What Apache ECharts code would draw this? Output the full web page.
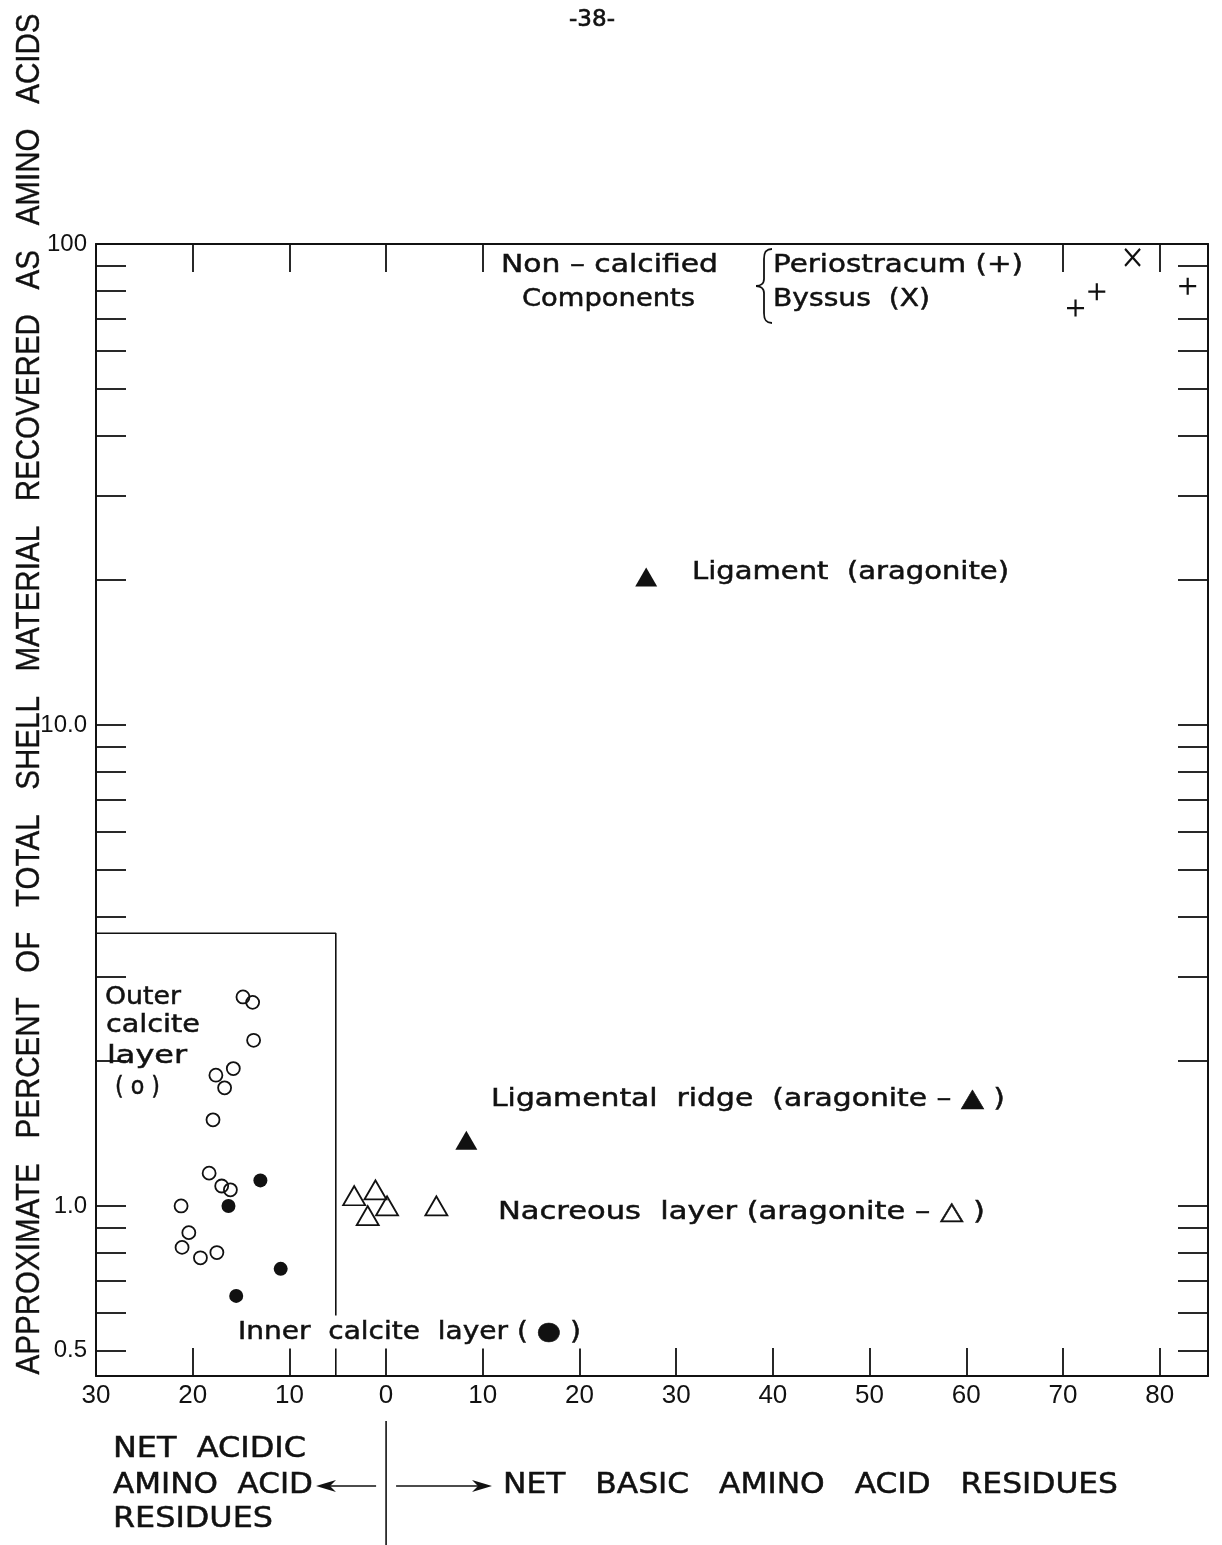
<!DOCTYPE html>
<html><head><meta charset="utf-8">
<script src="https://cdn.jsdelivr.net/npm/echarts@6/dist/echarts.min.js"></script>
<style>html,body{margin:0;padding:0;background:#fff}#c{width:1222px;height:1545px}</style>
</head><body><div id="c"></div>
<script>
// ---------- data ----------
const outerCalciteX = [-14.8, -13.8, -13.7, -17.6, -15.8, -16.7, -17.9, -18.3, -17.0, -16.1, -21.2, -20.4, -21.1, -19.2, -17.5];
const outerCalciteY = [2.72, 2.65, 2.21, 1.87, 1.93, 1.76, 1.51, 1.17, 1.10, 1.08, 1.00, 0.88, 0.82, 0.78, 0.80];
const innerCalciteX = [-13.0, -16.3, -10.9, -15.5];
const innerCalciteY = [1.13, 1.00, 0.74, 0.65];
const nacreousX = [-3.3, -1.1, 0.1, -1.9, 5.2];
const nacreousY = [1.05, 1.08, 1.00, 0.955, 1.00];
const ligRidgeX = [8.3];
const ligRidgeY = [1.37];
const ligamentX = [26.9];
const ligamentY = [20.3];
const periostracumX = [71.3, 73.5, 82.9];
const periostracumY = [73.6, 79.6, 81.7];
const byssusX = [77.2];
const byssusY = [93.8];
// enclosing box of the calcite-layer group (data units)
const boxX = [-30, -5.2, -5.2];
const boxY = [3.69, 3.69, 0.443];

// ---------- axes / ticks ----------
const X_MIN = -30, X_MAX = 85;
const Y_MIN = 0.443, Y_MAX = 100;
const xLabelValues = [-30, -20, -10, 0, 10, 20, 30, 40, 50, 60, 70, 80];
const xBottomTickValues = [-20, -10, 0, 10, 20, 30, 40, 50, 60, 70, 80];
const xTopTickValues = [-20, -10, 0, 10, 70, 80];
const yTickValues = [0.5, 0.6, 0.7, 0.8, 0.9, 1, 2, 3, 4, 5, 6, 7, 8, 9, 10, 20, 30, 40, 50, 60, 70, 80, 90];
const yRightTickValues = [0.5, 0.6, 0.7, 0.8, 0.9, 1, 2, 3, 4, 5, 6, 7, 8, 9, 10, 20, 30, 40, 50, 60, 70, 90];
const yLabelValues = [0.5, 1, 10, 100];
const yLabelTexts = ['0.5', '1.0', '10.0', '100'];

const zip = (xs, ys) => xs.map((x, i) => [x, ys[i]]);

const INK = '#111';
const FONT = 'DejaVu Sans';
const mctx = document.createElement('canvas').getContext('2d');
function fitText(str, left, cy, width, size, extra) {
  mctx.font = size + 'px "' + FONT + '"';
  const w = mctx.measureText(str).width;
  return {
    type: 'text', x: left, y: cy, scaleX: width / w, z: 100,
    style: Object.assign({ text: str, fontFamily: FONT, fontSize: size, fill: INK, stroke: INK, lineWidth: 0.5,
      align: 'left', verticalAlign: 'middle' }, extra || {})
  };
}

const chart = echarts.init(document.getElementById('c'), null, { renderer: 'canvas' });

const tickStyle = { color: INK, width: 1.8 };

function yAxisCfg(pos, ticks, showLabel) {
  return {
    type: 'log', logBase: 10, min: Y_MIN, max: Y_MAX, position: pos,
    axisLine: { show: true, onZero: false, lineStyle: { color: INK, width: 2 } },
    axisTick: { show: true, inside: true, length: 30, lineStyle: tickStyle, customValues: ticks },
    minorTick: { show: false },
    axisLabel: {
      show: showLabel, customValues: yLabelValues, margin: 9,
      fontFamily: 'Liberation Sans', fontSize: 24, color: INK,
      formatter: v => { const i = yLabelValues.findIndex(t => Math.abs(t - v) < 1e-6 * Math.max(1, t)); return i >= 0 ? yLabelTexts[i] : ''; }
    },
    splitLine: { show: false }
  };
}
function xAxisCfg(pos, ticks, showLabel) {
  return {
    type: 'value', min: X_MIN, max: X_MAX, position: pos,
    axisLine: { show: true, onZero: false, lineStyle: { color: INK, width: 2 } },
    axisTick: { show: true, inside: true, length: 28, lineStyle: tickStyle, customValues: ticks },
    axisLabel: {
      show: showLabel, customValues: xLabelValues, margin: 7,
      fontFamily: 'Liberation Sans', fontSize: 26, color: INK,
      formatter: v => String(Math.abs(Math.round(v)))
    },
    splitLine: { show: false }
  };
}

const plus = 'path://M5,0L5,10M0,5L10,5';
const cross = 'path://M0,0L10,10M10,0L0,10';

chart.setOption({
  backgroundColor: '#fff',
  animation: false,
  grid: { left: 96, right: 14, top: 244, bottom: 169, containLabel: false, outerBoundsMode: 'none' },
  xAxis: [xAxisCfg('bottom', xBottomTickValues, true), xAxisCfg('top', xTopTickValues, false)],
  yAxis: [yAxisCfg('left', yTickValues, true), yAxisCfg('right', yRightTickValues, false)],
  series: [
    { type: 'line', data: zip(boxX, boxY), symbol: 'none', lineStyle: { color: INK, width: 1.6 }, z: 1, silent: true },
    { type: 'scatter', data: zip(outerCalciteX, outerCalciteY), symbol: 'circle', symbolSize: 13,
      itemStyle: { color: 'rgba(0,0,0,0)', borderColor: INK, borderWidth: 1.8, opacity: 1 }, z: 3 },
    { type: 'scatter', data: zip(innerCalciteX, innerCalciteY), symbol: 'circle', symbolSize: 14,
      itemStyle: { color: INK, borderColor: INK, borderWidth: 0, opacity: 1 }, z: 3 },
    { type: 'scatter', data: zip(nacreousX, nacreousY), symbol: 'triangle', symbolSize: [22, 19],
      itemStyle: { color: 'rgba(0,0,0,0)', borderColor: INK, borderWidth: 1.8, opacity: 1 }, z: 3 },
    { type: 'scatter', data: zip(ligRidgeX, ligRidgeY), symbol: 'triangle', symbolSize: [22, 19],
      itemStyle: { color: INK, opacity: 1 }, z: 3 },
    { type: 'scatter', data: zip(ligamentX, ligamentY), symbol: 'triangle', symbolSize: [22, 19],
      itemStyle: { color: INK, opacity: 1 }, z: 3 },
    { type: 'scatter', data: zip(periostracumX, periostracumY), symbol: plus, symbolSize: 17,
      itemStyle: { color: 'none', borderColor: INK, borderWidth: 2.2, opacity: 1 }, z: 3 },
    { type: 'scatter', data: zip(byssusX, byssusY), symbol: cross, symbolSize: [15, 17],
      itemStyle: { color: 'none', borderColor: INK, borderWidth: 2.2, opacity: 1 }, z: 3 }
  ]
});

// ---------- annotations ----------
const x0 = chart.convertToPixel({ xAxisIndex: 0 }, 0);
const title = 'APPROXIMATE   PERCENT   OF   TOTAL   SHELL   MATERIAL   RECOVERED   AS   AMINO   ACIDS';
mctx.font = '34px "Liberation Sans"';
const titleW = mctx.measureText(title).width;

const braceStyle = { fill: 'none', stroke: INK, lineWidth: 1.8 };
const graphics = [
  { type: 'text', x: 30, y: 694, rotation: Math.PI / 2, scaleX: 1361 / titleW, z: 100,
    style: { text: title, fontFamily: 'Liberation Sans', fontSize: 34, fill: INK, stroke: INK, lineWidth: 0.4, align: 'center', verticalAlign: 'middle' } },
  { type: 'text', x: 592, y: 20, z: 100, style: { text: '-38-', fontFamily: FONT, fontSize: 23, fill: INK, stroke: INK, lineWidth: 0.6, align: 'center', verticalAlign: 'middle' } },
  fitText('Non – calcified', 501, 265, 217, 25),
  fitText('Components', 522, 299, 173, 25),
  // curly brace
  { type: 'bezierCurve', z: 100, shape: { x1: 772, y1: 249, cpx1: 766, cpy1: 249, cpx2: 764, cpy2: 252, x2: 764, y2: 259 }, style: braceStyle },
  { type: 'line', z: 100, shape: { x1: 764, y1: 259, x2: 764, y2: 279 }, style: braceStyle },
  { type: 'bezierCurve', z: 100, shape: { x1: 764, y1: 279, cpx1: 764, cpy1: 284, cpx2: 760, cpy2: 286, x2: 756, y2: 286 }, style: braceStyle },
  { type: 'bezierCurve', z: 100, shape: { x1: 756, y1: 286, cpx1: 760, cpy1: 286, cpx2: 764, cpy2: 288, x2: 764, y2: 293 }, style: braceStyle },
  { type: 'line', z: 100, shape: { x1: 764, y1: 293, x2: 764, y2: 313 }, style: braceStyle },
  { type: 'bezierCurve', z: 100, shape: { x1: 764, y1: 313, cpx1: 764, cpy1: 320, cpx2: 766, cpy2: 323, x2: 772, y2: 323 }, style: braceStyle },
  fitText('Periostracum (+)', 773, 265, 250, 25),
  fitText('Byssus  (X)', 773, 299, 157, 25),
  fitText('Ligament  (aragonite)', 692, 572, 317, 25),
  fitText('Ligamental  ridge  (aragonite – ▲ )', 491, 1099, 514, 25),
  fitText('Nacreous  layer (aragonite – △ )', 498, 1212, 487, 25),
  fitText('Inner  calcite  layer ( ● )', 238, 1332, 343, 25, { backgroundColor: '#fff', padding: [4, 0] }),
  fitText('Outer', 105, 997, 76, 25),
  fitText('calcite', 106, 1025, 94, 25),
  fitText('layer', 107, 1056, 80, 25),
  fitText('( o )', 115, 1087, 45, 25),
  fitText('NET  ACIDIC', 113, 1450, 193, 28),
  fitText('AMINO  ACID', 113, 1486, 200, 28),
  fitText('RESIDUES', 113, 1520, 160, 28),
  fitText('NET   BASIC   AMINO   ACID   RESIDUES', 503, 1486, 615, 28),
  { type: 'line', z: 100, shape: { x1: x0, y1: 1421, x2: x0, y2: 1545 }, style: { stroke: INK, lineWidth: 1.6 } },
  { type: 'line', z: 100, shape: { x1: x0 - 10, y1: 1486, x2: 322, y2: 1486 }, style: { stroke: INK, lineWidth: 1.6 } },
  { type: 'polygon', z: 100, shape: { points: [[316, 1486], [336, 1480], [330, 1486], [336, 1492]] }, style: { fill: INK } },
  { type: 'line', z: 100, shape: { x1: x0 + 10, y1: 1486, x2: 486, y2: 1486 }, style: { stroke: INK, lineWidth: 1.6 } },
  { type: 'polygon', z: 100, shape: { points: [[492, 1486], [472, 1480], [478, 1486], [472, 1492]] }, style: { fill: INK } }
];
chart.setOption({ graphic: graphics });
</script>
</body></html>
